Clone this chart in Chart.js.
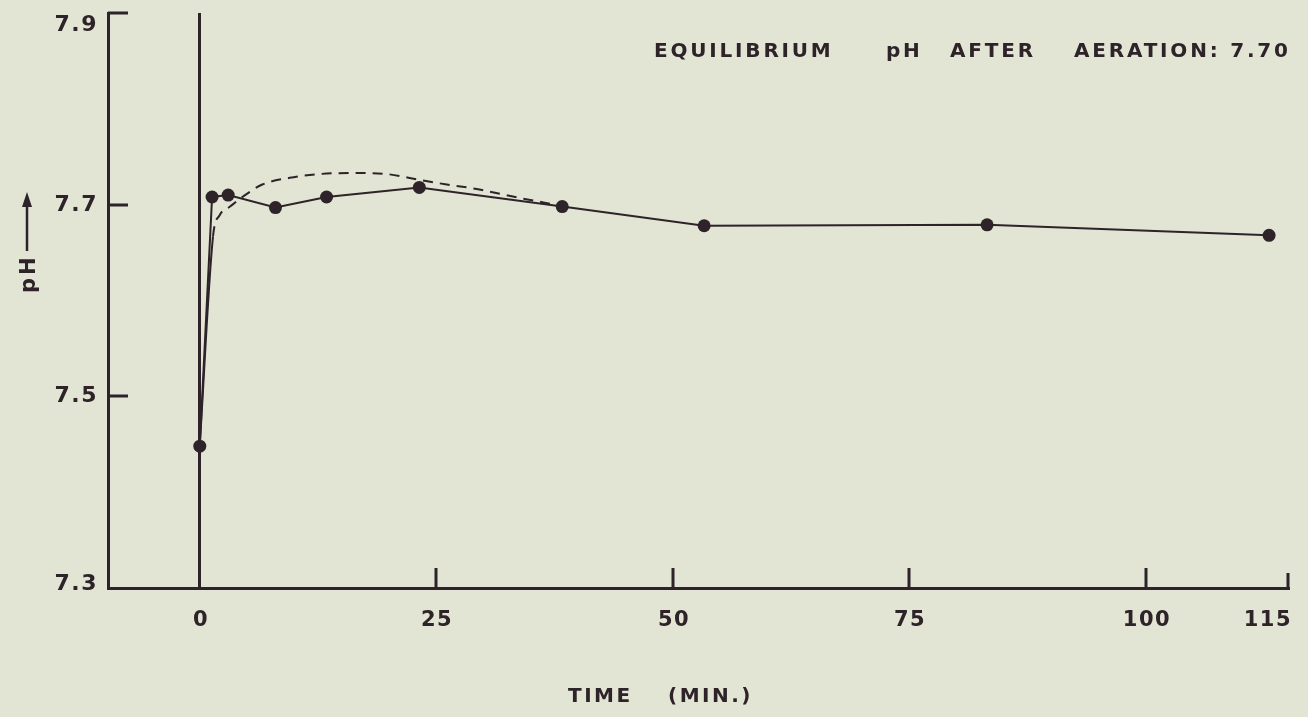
<!DOCTYPE html>
<html>
<head>
<meta charset="utf-8">
<title>pH after aeration</title>
<script src="https://cdn.jsdelivr.net/npm/chart.js@4.4.1/dist/chart.umd.min.js"></script>
<style>
  html, body { margin: 0; padding: 0; background: #e2e4d4; }
  canvas { display: block; }
</style>
</head>
<body>
<canvas id="chart1" width="1308" height="717"></canvas>
<script>
// measured readings
const times = [0, 1.3, 3, 8, 13.4, 23.2, 38.3, 53.3, 83.2, 113];
const phValues = [7.448, 7.708, 7.71, 7.697, 7.708, 7.718, 7.698, 7.678, 7.679, 7.668];

// smoothed (dashed) trend
const curveTimes = [0, 1.4, 2.1, 3.2, 4.5, 6.6, 9.5, 12.7, 16.5, 19.7, 23.2, 26.1, 28.9, 33.8, 37.6];
const curvePh = [7.45, 7.667, 7.689, 7.698, 7.708, 7.721, 7.728, 7.732, 7.733, 7.732, 7.726, 7.721, 7.717, 7.707, 7.7];

const xTicks = [0, 25, 50, 75, 100, 115];
const yTicks = [7.3, 7.5, 7.7, 7.9];

const noteWords = ['EQUILIBRIUM', 'pH', 'AFTER', 'AERATION: 7.70'];
const xTitle = ['TIME', '(MIN.)'];
const yTitle = 'pH';

const ink = '#2d2328';
const fontFamily = "'DejaVu Sans', sans-serif";

// tick marks point inward and labels are hand placed, so the scales
// only provide the pixel positions here
const lettering = {
  id: 'lettering',
  afterDraw(chart) {
    const ctx = chart.ctx;
    const x = chart.scales.x;
    const y = chart.scales.y;
    const area = chart.chartArea;

    ctx.save();
    ctx.strokeStyle = ink;
    ctx.fillStyle = ink;
    ctx.lineWidth = 3;
    ctx.lineCap = 'butt';

    // inward tick marks + labels on the pH axis
    ctx.font = 'bold 22px ' + fontFamily;
    ctx.letterSpacing = '1.5px';
    ctx.textAlign = 'right';
    ctx.textBaseline = 'middle';
    yTicks.forEach(v => {
      const py = Math.round(y.getPixelForValue(v));
      if (v > y.min) {
        ctx.beginPath();
        ctx.moveTo(area.left, py);
        ctx.lineTo(area.left + 20, py);
        ctx.stroke();
      }
      const ly = Math.min(Math.max(py, area.top + 12), area.bottom - 4);
      ctx.fillText(v.toFixed(1), area.left - 10, ly);
    });

    // upward tick marks + labels on the time axis
    ctx.font = 'bold 21px ' + fontFamily;
    xTicks.forEach((v, i) => {
      const px = Math.round(x.getPixelForValue(v));
      const last = i === xTicks.length - 1;
      if (v > 0) {
        ctx.beginPath();
        ctx.moveTo(px, area.bottom);
        ctx.lineTo(px, area.bottom - (last ? 15 : 20));
        ctx.stroke();
      }
      ctx.textAlign = last ? 'right' : 'center';
      ctx.fillText(String(v), last ? px + 4 : px + 1, area.bottom + 33);
    });

    // note in the upper right
    ctx.font = 'bold 20px ' + fontFamily;
    ctx.letterSpacing = '2.8px';
    ctx.textAlign = 'left';
    ctx.textBaseline = 'alphabetic';
    const noteX = [654, 886, 950, 1074];
    noteWords.forEach((w, i) => ctx.fillText(w, noteX[i], 57));

    // time axis title
    ctx.letterSpacing = '2.5px';
    ctx.fillText(xTitle[0], 568, 702);
    ctx.fillText(xTitle[1], 668, 702);

    // pH axis title with arrow
    ctx.save();
    ctx.translate(35, 293);
    ctx.rotate(-Math.PI / 2);
    ctx.font = 'bold 21px ' + fontFamily;
    ctx.letterSpacing = '3px';
    ctx.fillText(yTitle, 0, 0);
    ctx.lineWidth = 2.5;
    ctx.beginPath();
    ctx.moveTo(42, -8);
    ctx.lineTo(92, -8);
    ctx.stroke();
    ctx.beginPath();
    ctx.moveTo(101, -8);
    ctx.lineTo(86, -13);
    ctx.lineTo(86, -3);
    ctx.closePath();
    ctx.fill();
    ctx.restore();

    ctx.restore();
  }
};

new Chart(document.getElementById('chart1'), {
  type: 'scatter',
  data: {
    datasets: [
      {
        data: times.map((t, i) => ({ x: t, y: phValues[i] })),
        showLine: true,
        borderColor: ink,
        borderWidth: 2,
        pointRadius: 6.5,
        pointBackgroundColor: ink,
        pointBorderWidth: 0,
        tension: 0,
      },
      {
        data: curveTimes.map((t, i) => ({ x: t, y: curvePh[i] })),
        showLine: true,
        borderColor: ink,
        borderWidth: 2,
        pointRadius: 0,
        cubicInterpolationMode: 'monotone',
        segment: {
          borderDash: c => (c.p0DataIndex === 0 ? [] : [10, 7]),
        },
      },
    ],
  },
  options: {
    responsive: false,
    animation: false,
    layout: {
      padding: { top: 13, right: 20, left: 0, bottom: 0 },
    },
    scales: {
      x: {
        type: 'linear',
        min: -9.7,
        max: 115,
        afterBuildTicks: s => {
          s.ticks = xTicks.map(v => ({ value: v }));
        },
        afterFit: s => {
          s.height = 129;
          s.paddingLeft = 0;
          s.paddingRight = 0;
        },
        grid: {
          drawTicks: false,
          color: c => (c.tick && c.tick.value === 0 ? ink : 'transparent'),
          lineWidth: 3,
        },
        border: { color: ink, width: 3 },
        ticks: { display: false },
      },
      y: {
        type: 'linear',
        min: 7.3,
        max: 7.9,
        afterBuildTicks: s => {
          s.ticks = yTicks.map(v => ({ value: v }));
        },
        afterFit: s => {
          s.width = 108;
          s.paddingTop = 0;
          s.paddingBottom = 0;
        },
        grid: { drawOnChartArea: false, drawTicks: false },
        border: { color: ink, width: 3 },
        ticks: { display: false },
      },
    },
    plugins: {
      legend: { display: false },
      tooltip: { enabled: false },
    },
  },
  plugins: [lettering],
});
</script>
</body>
</html>
